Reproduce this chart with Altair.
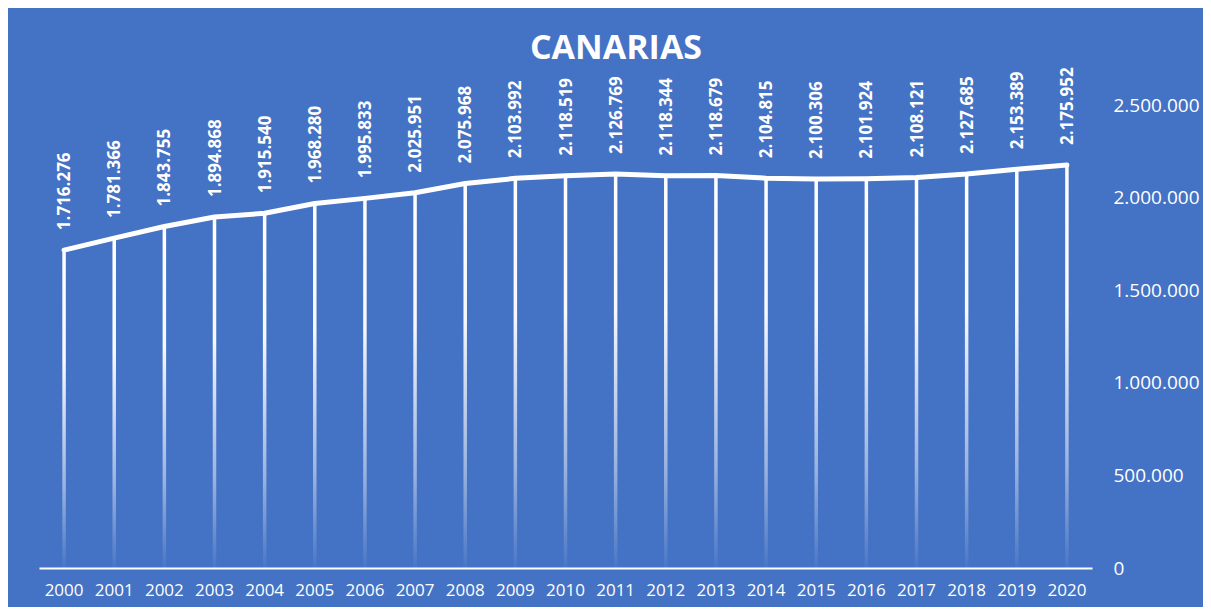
import altair as alt
import pandas as pd

years = ["2000", "2001", "2002", "2003", "2004", "2005", "2006", "2007", "2008", "2009",
         "2010", "2011", "2012", "2013", "2014", "2015", "2016", "2017", "2018", "2019", "2020"]
values = [1716276, 1781366, 1843755, 1894868, 1915540, 1968280, 1995833, 2025951, 2075968,
          2103992, 2118519, 2126769, 2118344, 2118679, 2104815, 2100306, 2101924, 2108121,
          2127685, 2153389, 2175952]
y_ticks = [0, 500000, 1000000, 1500000, 2000000, 2500000]
title_text = ["CANARIAS"]

labels = [f"{v:,}".replace(",", ".") for v in values]
df = pd.DataFrame({"year": years, "value": values, "label": labels})

FONT = "Open Sans"
BG = "#4472C4"

base = alt.Chart(df).encode(
    x=alt.X(
        "year:O",
        sort=None,
        scale=alt.Scale(type="band", paddingInner=0, paddingOuter=0),
        axis=alt.Axis(
            title=None, labelAngle=0, ticks=False, domain=True, domainColor="white",
            domainWidth=2, labelColor="white", labelFont=FONT, labelFontSize=17,
            labelPadding=14, grid=False,
        ),
    ),
    y=alt.Y(
        "value:Q",
        scale=alt.Scale(domain=[0, 2500000], nice=False, zero=True),
        axis=alt.Axis(
            title=None, orient="right", values=y_ticks, domain=False, ticks=False,
            grid=False, labelColor="white", labelFont=FONT, labelFontSize=19,
            labelPadding=21, labelAlign="left", labelBaseline="middle",
            labelExpr="replace(replace(format(datum.value, ','), ',', '.'), ',', '.')",
        ),
    ),
)

grad = alt.LinearGradient(
    gradient="linear", x1=0, x2=0, y1=0, y2=1,
    stops=[
        alt.GradientStop(color="rgba(255,255,255,1)", offset=0),
        alt.GradientStop(color="rgba(255,255,255,0.95)", offset=0.35),
        alt.GradientStop(color="rgba(255,255,255,0.45)", offset=0.75),
        alt.GradientStop(color="rgba(255,255,255,0.03)", offset=1),
    ],
)

drops = base.mark_bar(size=3.5, color=grad)
line = base.mark_line(color="white", strokeWidth=5, strokeCap="round", strokeJoin="round")
texts = base.mark_text(
    angle=270, align="left", baseline="middle", dx=20, dy=1,
    font=FONT, fontSize=17, fontWeight="bold", color="white",
).encode(text="label:N")

title = alt.Chart(pd.DataFrame({"t": title_text})).mark_text(
    font=FONT, fontSize=34, fontWeight="bold", color="white",
    align="center", baseline="middle",
).encode(text="t:N", x=alt.value(577), y=alt.value(-56))

chart = alt.layer(drops, line, texts, title).properties(
    width=1053,
    height=463,
    background=BG,
    padding={"left": 31, "top": 97, "right": 111, "bottom": 39},
    autosize=alt.AutoSizeParams(type="none"),
).configure_view(stroke=None)

chart.save("out.html", embed_options={"renderer": "svg", "actions": False})
